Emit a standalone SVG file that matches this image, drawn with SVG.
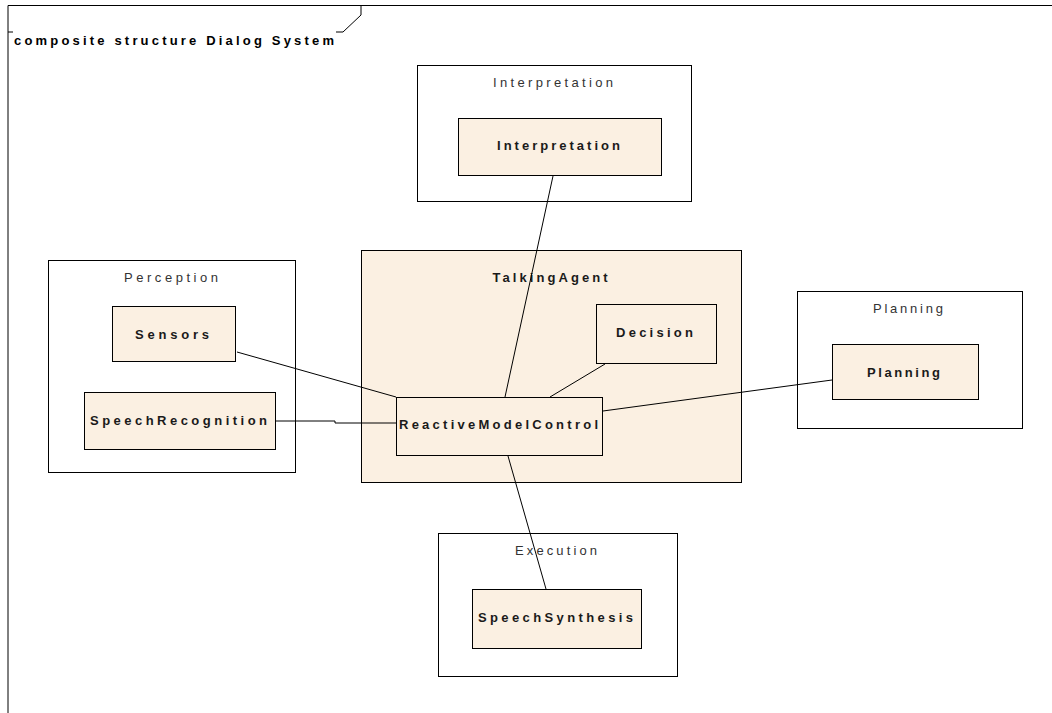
<svg xmlns="http://www.w3.org/2000/svg" width="1052" height="713" viewBox="0 0 1052 713">
  <style>
    .frame { fill: none; stroke: #000; stroke-width: 1; }
    .pkg { fill: #fff; stroke: #000; stroke-width: 1; }
    .part { fill: #fbf0e2; stroke: #000; stroke-width: 1; }
    .conn { stroke: #000; stroke-width: 1; fill: none; }
    .lbl { font-family: "Liberation Sans", Arial, sans-serif; font-size: 13px; fill: #333; text-anchor: middle; }
    .bold { font-family: "Liberation Sans", Arial, sans-serif; font-size: 13px; font-weight: bold; fill: #1a1a1a; text-anchor: middle; }
    .title { font-family: "Liberation Sans", Arial, sans-serif; font-size: 13px; font-weight: bold; fill: #000; }
  </style>
  <rect width="1052" height="713" fill="#fff"/>

  <!-- diagram frame with name tag -->
  <g id="frame">
    <path class="frame" d="M8,713 V5.5 H1052"/>
    <path class="frame" d="M8,32 H13 M336,32 H343 L361,15 V5.5"/>
    <text class="title" x="14" y="45" textLength="320" lengthAdjust="spacing">composite structure Dialog System</text>
  </g>

  <!-- containers -->
  <g id="perception">
    <rect class="pkg" x="48.5" y="260.5" width="247" height="212"/>
    <text class="lbl" x="171" y="282" textLength="94" lengthAdjust="spacing">Perception</text>
  </g>
  <g id="interpretation-pkg">
    <rect class="pkg" x="417.5" y="65.5" width="274" height="136"/>
    <text class="lbl" x="553" y="87" textLength="120" lengthAdjust="spacing">Interpretation</text>
  </g>
  <g id="planning-pkg">
    <rect class="pkg" x="797.5" y="291.5" width="225" height="137"/>
    <text class="lbl" x="908" y="313" textLength="70" lengthAdjust="spacing">Planning</text>
  </g>
  <g id="execution">
    <rect class="pkg" x="438.5" y="533.5" width="239" height="143"/>
    <text class="lbl" x="556" y="555" textLength="82" lengthAdjust="spacing">Execution</text>
  </g>
  <g id="talking-agent">
    <rect class="part" x="361.5" y="250.5" width="380" height="232"/>
    <text class="bold" x="550" y="282" textLength="115" lengthAdjust="spacing">TalkingAgent</text>
  </g>

  <!-- parts -->
  <g id="sensors">
    <rect class="part" x="112.5" y="306.5" width="123" height="55"/>
    <text class="bold" x="172" y="339" textLength="74" lengthAdjust="spacing">Sensors</text>
  </g>
  <g id="speech-recognition">
    <rect class="part" x="84.5" y="392.5" width="191" height="57"/>
    <text class="bold" x="178.5" y="425" textLength="177" lengthAdjust="spacing">SpeechRecognition</text>
  </g>
  <g id="interpretation">
    <rect class="part" x="458.5" y="118.5" width="203" height="57"/>
    <text class="bold" x="558.5" y="150" textLength="123" lengthAdjust="spacing">Interpretation</text>
  </g>
  <g id="decision">
    <rect class="part" x="596.5" y="304.5" width="120" height="59"/>
    <text class="bold" x="654.5" y="337" textLength="77" lengthAdjust="spacing">Decision</text>
  </g>
  <g id="planning">
    <rect class="part" x="832.5" y="344.5" width="146" height="55"/>
    <text class="bold" x="903.5" y="377" textLength="73" lengthAdjust="spacing">Planning</text>
  </g>
  <g id="speech-synthesis">
    <rect class="part" x="472.5" y="589.5" width="169" height="59"/>
    <text class="bold" x="555.5" y="622" textLength="155" lengthAdjust="spacing">SpeechSynthesis</text>
  </g>

  <!-- connectors -->
  <g id="connectors">
    <line class="conn" x1="553" y1="176" x2="505" y2="397"/>
    <line class="conn" x1="237" y1="352" x2="396" y2="397"/>
    <polyline class="conn" points="276,421 335,421 335,423 396,423"/>
    <line class="conn" x1="605" y1="364" x2="550" y2="397"/>
    <line class="conn" x1="603" y1="411" x2="832" y2="380"/>
    <line class="conn" x1="508" y1="456" x2="546" y2="589"/>
  </g>

  <g id="reactive-model-control">
    <rect class="part" x="396.5" y="397.5" width="206" height="58"/>
    <text class="bold" x="498.5" y="429" textLength="199" lengthAdjust="spacing">ReactiveModelControl</text>
  </g>
</svg>
